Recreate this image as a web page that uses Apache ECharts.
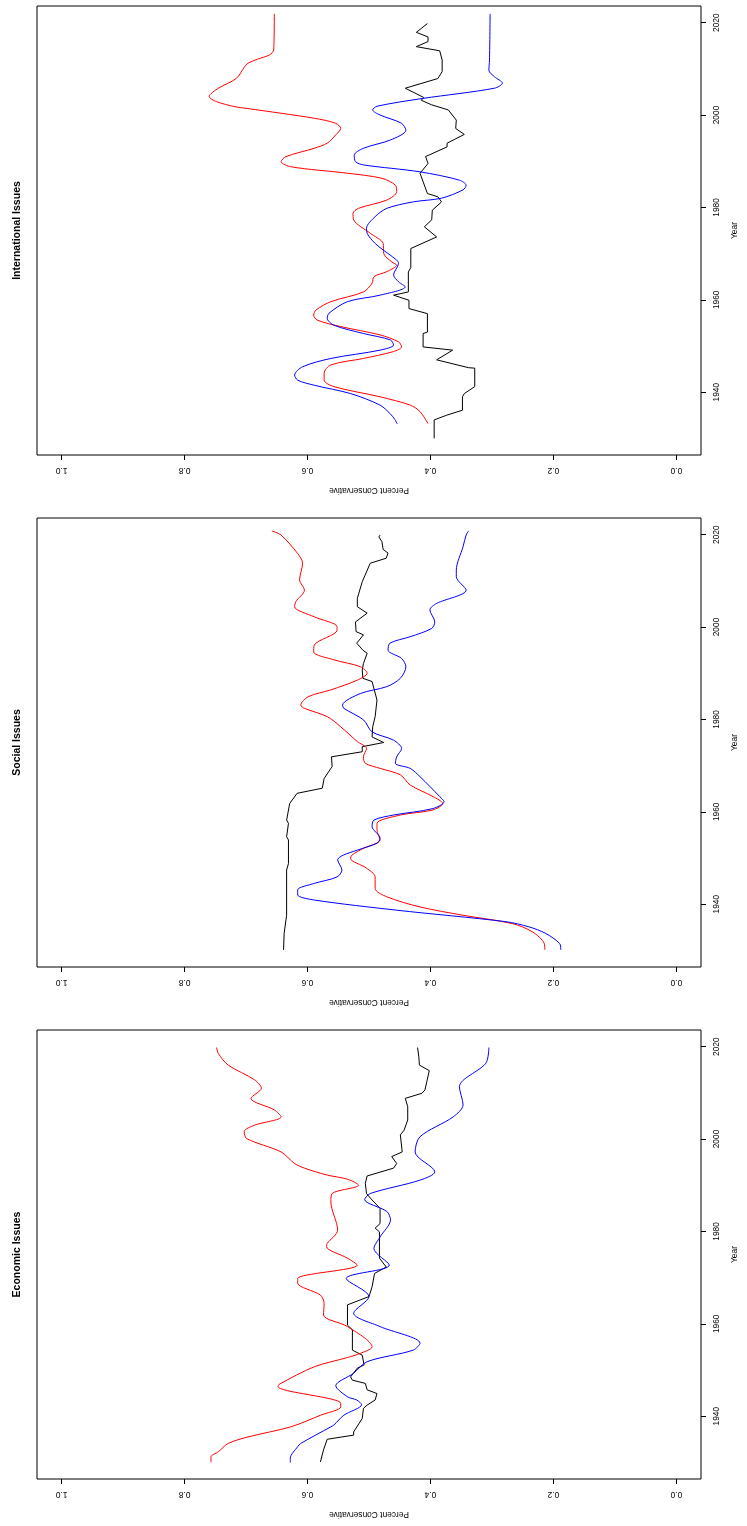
<!DOCTYPE html>
<html>
<head>
<meta charset="utf-8">
<title>Percent Conservative by Year</title>
<script src="https://cdn.jsdelivr.net/npm/echarts@6/dist/echarts.min.js"></script>
<style>
  html, body { margin: 0; padding: 0; background: #fff; }
  #chart { width: 747px; height: 1526px; }
</style>
</head>
<body>
<div id="chart"></div>
<script>
// panel titles, top to bottom
var panelTitles = ['International Issues', 'Social Issues', 'Economic Issues'];
var pctTicks = [0, 0.2, 0.4, 0.6, 0.8, 1.0];
var yearTicks = [1940, 1960, 1980, 2000, 2020];

// [year, percent conservative]
var intlBlack = [[1930,0.394],[1934,0.394],[1935,0.374],[1936.1,0.348],[1939,0.348],[1939.7,0.345],[1941.2,0.328],[1945.2,0.328],[1945.3,0.338],[1947,0.39],[1949.1,0.364],[1949.8,0.412],[1952.7,0.412],[1953,0.405],[1957,0.405],[1958.1,0.435],[1959.9,0.435],[1961,0.46],[1961.7,0.436],[1966,0.436],[1967,0.432],[1971.1,0.432],[1973.6,0.39],[1975.8,0.41],[1977.3,0.398],[1979.4,0.397],[1981.2,0.382],[1982.3,0.388],[1983,0.405],[1987.4,0.417],[1989.5,0.404],[1991,0.408],[1993.1,0.373],[1993.9,0.373],[1995.8,0.345],[1997.1,0.359],[1998.9,0.358],[2001.1,0.371],[2002.2,0.398],[2003.2,0.415],[2003.8,0.411],[2005.8,0.441],[2007.9,0.388],[2009.4,0.381],[2011.9,0.381],[2013.9,0.385],[2014.8,0.423],[2015.9,0.404],[2016.9,0.404],[2017.9,0.423],[2019.8,0.405]];
var intlRed = [[1933.2,0.404],[1935.8,0.417],[1937.2,0.433],[1939,0.482],[1941.2,0.557],[1942.6,0.573],[1944.1,0.573],[1945.9,0.562],[1947.3,0.509],[1948.8,0.46],[1949.8,0.447],[1950.9,0.452],[1952.4,0.482],[1954.2,0.546],[1955.6,0.584],[1956.7,0.59],[1957.8,0.586],[1959.6,0.562],[1961.7,0.509],[1963.6,0.495],[1965,0.492],[1966.1,0.471],[1967.5,0.455],[1968.2,0.463],[1970,0.476],[1972.2,0.477],[1974.4,0.498],[1977.3,0.525],[1978.7,0.526],[1979.8,0.517],[1981.6,0.471],[1983.4,0.455],[1984.8,0.457],[1986.3,0.479],[1987.4,0.535],[1988.8,0.627],[1989.9,0.643],[1991,0.635],[1992.8,0.589],[1993.9,0.568],[1995.7,0.554],[1997.1,0.546],[1998.2,0.554],[1999.3,0.589],[2001.4,0.697],[2001.8,0.718],[2002.9,0.748],[2004,0.76],[2005.8,0.745],[2007.9,0.716],[2010.5,0.702],[2011.2,0.697],[2012.1,0.681],[2013,0.662],[2014.1,0.655],[2021.9,0.654]];
var intlBlue = [[1933.1,0.454],[1934.1,0.458],[1935.4,0.466],[1937.2,0.482],[1939.7,0.53],[1941.5,0.589],[1942.6,0.616],[1943.7,0.621],[1945.5,0.608],[1947.3,0.562],[1949.1,0.482],[1950.2,0.46],[1951.3,0.465],[1952.7,0.509],[1954.5,0.557],[1956,0.568],[1957.1,0.565],[1959.6,0.535],[1961,0.482],[1962.8,0.441],[1963.9,0.452],[1965.4,0.46],[1967.9,0.452],[1968.6,0.455],[1971.5,0.484],[1972.9,0.495],[1974.4,0.503],[1975.5,0.504],[1978,0.49],[1979.8,0.471],[1981.2,0.428],[1982,0.382],[1983.8,0.347],[1984.8,0.342],[1985.9,0.353],[1987.7,0.417],[1989.2,0.509],[1989.9,0.522],[1991.3,0.524],[1992.8,0.509],[1994.6,0.465],[1996.7,0.44],[1998.2,0.447],[2000,0.482],[2001.1,0.494],[2001.9,0.487],[2003.6,0.412],[2005.8,0.296],[2006.9,0.283],[2008.3,0.296],[2009.7,0.305],[2011.9,0.304],[2021.9,0.303]];

var socBlack = [[1930.1,0.639],[1933.7,0.638],[1937.6,0.634],[1947.4,0.634],[1947.8,0.636],[1948.8,0.631],[1953.9,0.631],[1954.6,0.634],[1957.5,0.631],[1958.2,0.634],[1961.8,0.629],[1964,0.617],[1965.1,0.576],[1967.2,0.573],[1969.8,0.56],[1971.9,0.561],[1973,0.511],[1974.1,0.511],[1975,0.476],[1976.2,0.495],[1978.4,0.494],[1980.6,0.49],[1984.2,0.487],[1988.2,0.495],[1988.9,0.51],[1990.7,0.511],[1992.1,0.509],[1994.3,0.503],[1995,0.51],[1996.5,0.52],[1998.3,0.509],[1999,0.521],[2001.1,0.522],[2003,0.503],[2004.4,0.519],[2006.2,0.519],[2009.8,0.511],[2013.8,0.498],[2014.9,0.472],[2016,0.469],[2016.8,0.477],[2018.5,0.479],[2019.5,0.484],[2019.9,0.482]];
var socRed = [[1930.1,0.214],[1931.5,0.215],[1934,0.234],[1935.8,0.267],[1937.6,0.347],[1939.4,0.417],[1941.6,0.471],[1943.4,0.49],[1945.9,0.49],[1947.8,0.504],[1949.9,0.53],[1950.6,0.528],[1952.1,0.509],[1953.9,0.482],[1956,0.487],[1957.5,0.487],[1959.3,0.449],[1960.4,0.396],[1961.8,0.38],[1963.3,0.396],[1965.8,0.433],[1968,0.449],[1969.4,0.482],[1970.5,0.506],[1971.9,0.509],[1973.7,0.504],[1975.2,0.519],[1978.4,0.546],[1980.6,0.568],[1982.4,0.605],[1983.1,0.611],[1984.9,0.599],[1986.4,0.562],[1988.5,0.519],[1990,0.503],[1991.4,0.514],[1992.9,0.557],[1994.6,0.59],[1996.1,0.589],[1999.3,0.552],[2000.1,0.552],[2002.2,0.589],[2004.4,0.621],[2005.5,0.619],[2008,0.605],[2010.2,0.613],[2013.8,0.608],[2015.9,0.616],[2019.9,0.643],[2020.8,0.658]];
var socBlue = [[1930.1,0.188],[1931.5,0.19],[1933.7,0.213],[1935.1,0.24],[1936.2,0.277],[1938.7,0.455],[1940.9,0.589],[1942,0.616],[1943.1,0.616],[1944.5,0.589],[1945.9,0.552],[1947.4,0.544],[1949.6,0.551],[1950.6,0.542],[1951.7,0.519],[1953.2,0.487],[1954.3,0.482],[1956.8,0.495],[1958.2,0.492],[1959.3,0.46],[1960.7,0.396],[1962.2,0.378],[1963.3,0.385],[1967.6,0.417],[1969.4,0.433],[1970.5,0.457],[1971.9,0.455],[1973.7,0.447],[1975.5,0.46],[1977.3,0.495],[1979.9,0.509],[1982.4,0.541],[1983.1,0.543],[1985.6,0.514],[1987.1,0.471],[1988.9,0.449],[1991.4,0.44],[1993.2,0.447],[1995,0.469],[1996.5,0.466],[1997.9,0.433],[1999.7,0.398],[2001.1,0.393],[2003.7,0.401],[2005.1,0.39],[2008,0.342],[2010.9,0.358],[2012.3,0.358],[2017.4,0.347],[2019.9,0.342],[2020.8,0.338]];

var econBlack = [[1930.1,0.579],[1932.7,0.574],[1935,0.568],[1935.9,0.525],[1936.6,0.525],[1939.5,0.511],[1941.7,0.509],[1942.4,0.503],[1943.5,0.49],[1944.9,0.487],[1945.7,0.503],[1947.1,0.506],[1947.8,0.527],[1948.5,0.53],[1950.4,0.519],[1951.1,0.508],[1953.2,0.511],[1954.3,0.527],[1958.7,0.527],[1959.7,0.535],[1964.1,0.535],[1965.9,0.5],[1968,0.495],[1970.9,0.491],[1972.3,0.472],[1974.2,0.483],[1979.9,0.483],[1980.7,0.49],[1981.7,0.482],[1985,0.482],[1986.8,0.495],[1988.2,0.504],[1990.4,0.506],[1992,0.503],[1993.7,0.46],[1994.7,0.455],[1996.2,0.463],[1997.2,0.446],[2000.9,0.449],[2001.9,0.443],[2004.1,0.437],[2007,0.437],[2008.8,0.441],[2009.9,0.414],[2010.6,0.409],[2012.4,0.406],[2014.8,0.402],[2016,0.418],[2017.8,0.419],[2019.8,0.421]];
var econRed = [[1930,0.757],[1931.2,0.757],[1932.3,0.745],[1934.1,0.729],[1935.5,0.697],[1937.7,0.627],[1940.2,0.579],[1942,0.546],[1942.8,0.546],[1946.4,0.648],[1946.9,0.646],[1950.7,0.589],[1952.7,0.535],[1953.6,0.514],[1955,0.495],[1959.4,0.535],[1961.9,0.574],[1964.4,0.573],[1966.2,0.579],[1968.8,0.616],[1969.8,0.616],[1972.7,0.519],[1974.2,0.535],[1976.7,0.569],[1977.4,0.568],[1980.3,0.551],[1986.4,0.562],[1988.2,0.56],[1990,0.517],[1991.3,0.535],[1992.2,0.568],[1993.7,0.605],[1994.7,0.621],[1997.2,0.643],[2000.1,0.699],[2001.6,0.703],[2003,0.686],[2004.8,0.643],[2006.3,0.654],[2008.8,0.692],[2011,0.675],[2012.8,0.686],[2016,0.729],[2018.5,0.745],[2019.8,0.748]];
var econBlue = [[1930,0.628],[1930.9,0.628],[1933.4,0.616],[1934.1,0.611],[1937.7,0.562],[1938.1,0.557],[1940.2,0.541],[1942.5,0.512],[1943.5,0.52],[1944.2,0.535],[1946.6,0.554],[1949.3,0.525],[1951.8,0.503],[1954.3,0.428],[1955.8,0.417],[1959.4,0.482],[1962.3,0.525],[1965.9,0.5],[1969.8,0.537],[1972.7,0.467],[1976.3,0.492],[1978.8,0.482],[1982.5,0.465],[1984.3,0.471],[1986.9,0.507],[1988.2,0.498],[1991.1,0.417],[1992.9,0.393],[1997.2,0.425],[2000.5,0.417],[2004.8,0.363],[2007.4,0.347],[2011.3,0.353],[2016.4,0.31],[2019.8,0.305]];

var panelData = [
  [intlBlack, intlRed, intlBlue],
  [socBlack, socRed, socBlue],
  [econBlack, econRed, econBlue]
];
var lineColors = ['#000000', '#ff0000', '#0000ff'];

var fontFamily = "'Liberation Sans', Arial, Helvetica, sans-serif";

var chart = echarts.init(document.getElementById('chart'), null, { renderer: 'canvas' });

var grids = [], xAxes = [], yAxes = [], series = [], graphics = [];

panelTitles.forEach(function (title, i) {
  var top = 6 + 512 * i;
  grids.push({
    left: 37, right: 40, top: top, height: 449,
    show: true, borderColor: '#000', borderWidth: 1, backgroundColor: 'transparent'
  });
  // percent axis runs horizontally, 1.0 at the left
  xAxes.push({
    gridIndex: i, type: 'value', inverse: true, min: -0.04, max: 1.04,
    position: 'bottom',
    axisLine: { show: false, onZero: false },
    splitLine: { show: false },
    axisTick: { show: true, customValues: pctTicks, length: 5, lineStyle: { color: '#000', width: 1 } },
    axisLabel: {
      customValues: pctTicks, rotate: 180, margin: 11,
      fontSize: 8.4, color: '#000', fontFamily: fontFamily,
      formatter: function (v) { return v.toFixed(1); }
    },
    name: 'Percent Conservative', nameLocation: 'middle', nameGap: 31, nameRotate: 180,
    nameTextStyle: { fontSize: 8.4, color: '#000', fontFamily: fontFamily }
  });
  // year axis runs vertically on the right, later years at the top
  yAxes.push({
    gridIndex: i, type: 'value', min: 1926.4, max: 2023.6,
    position: 'right',
    axisLine: { show: false, onZero: false },
    splitLine: { show: false },
    axisTick: { show: true, customValues: yearTicks, length: 5, lineStyle: { color: '#000', width: 1 } },
    axisLabel: {
      customValues: yearTicks, rotate: 90, margin: 11.5,
      fontSize: 8.4, color: '#000', fontFamily: fontFamily,
      formatter: function (v) { return String(v); }
    },
    name: 'Year', nameLocation: 'middle', nameGap: 30, nameRotate: 90,
    nameTextStyle: { fontSize: 8.4, color: '#000', fontFamily: fontFamily }
  });
  panelData[i].forEach(function (arr, k) {
    series.push({
      type: 'line',
      xAxisIndex: i, yAxisIndex: i,
      data: arr.map(function (d) { return [d[1], d[0]]; }),
      showSymbol: false,
      smooth: k === 0 ? false : 0.3,
      lineStyle: { color: lineColors[k], width: 1 },
      itemStyle: { color: lineColors[k] },
      z: 2 + k
    });
  });
  graphics.push({
    type: 'text',
    x: 17, y: top + 224.5,
    rotation: Math.PI / 2,
    style: {
      text: title, x: 0, y: 0,
      textAlign: 'center', textVerticalAlign: 'middle',
      font: 'bold 10.5px ' + fontFamily, fill: '#000'
    }
  });
});

var option = {
  animation: false,
  backgroundColor: '#fff',
  grid: grids,
  xAxis: xAxes,
  yAxis: yAxes,
  series: series,
  graphic: graphics
};

option && chart.setOption(option);
</script>
</body>
</html>
